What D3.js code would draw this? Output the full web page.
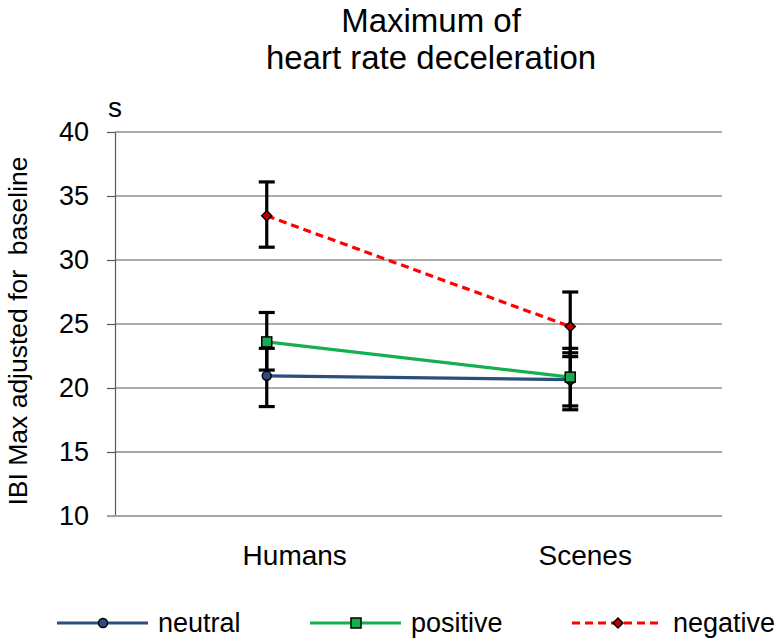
<!DOCTYPE html>
<html><head><meta charset="utf-8">
<script src="https://cdn.jsdelivr.net/npm/d3@7"></script>
<style>body{margin:0;background:#fff} text{font-family:"Liberation Sans",Arial,sans-serif;fill:#000}</style>
</head><body><svg id="c" width="781" height="642"></svg>
<script>
const categories = ["Humans", "Scenes"];
const seriesNames = ["neutral", "positive", "negative"];
const neutral = [20.95, 20.65];
const neutralLow = [18.55, 18.3];
const neutralHigh = [23.1, 22.75];
const positive = [23.6, 20.85];
const positiveLow = [21.4, 18.6];
const positiveHigh = [25.9, 23.1];
const negative = [33.45, 24.8];
const negativeLow = [31.0, 22.45];
const negativeHigh = [36.1, 27.5];
const yTicks = [10, 15, 20, 25, 30, 35, 40];
const titleLines = ["Maximum of", "heart rate deceleration"];
const yTitle = "IBI Max adjusted for  baseline";
const unitLabel = "s";

const series = [
  {name: seriesNames[0], v: neutral, lo: neutralLow, hi: neutralHigh, color: "#2B4E7D", dash: null, marker: "circle", mfill: "#2B4E7D"},
  {name: seriesNames[1], v: positive, lo: positiveLow, hi: positiveHigh, color: "#14B050", dash: null, marker: "square", mfill: "#14B050"},
  {name: seriesNames[2], v: negative, lo: negativeLow, hi: negativeHigh, color: "#FF0000", dash: "8,5", marker: "diamond", mfill: "#C00000"}
];

const svg = d3.select("#c");
const x = d3.scalePoint().domain(categories).range([115, 722]).padding(0.5);
const y = d3.scaleLinear().domain([10, 40]).range([516, 132]);

// gridlines
svg.append("g").selectAll("line").data(yTicks.filter(t => t > 10)).join("line")
  .attr("x1", 115).attr("x2", 722).attr("y1", d => y(d)).attr("y2", d => y(d))
  .attr("stroke", d => d === 15 ? "#a6a6a6" : "#595959").attr("stroke-width", d => d === 15 ? 2 : 1.2);

// y axis
const yAxis = d3.axisLeft(y).tickValues(yTicks).tickSize(8).tickPadding(18).tickSizeOuter(0);
const ga = svg.append("g").attr("transform", "translate(115,0)").call(yAxis);
ga.select(".domain").attr("stroke", "#595959").attr("stroke-width", 1.2);
ga.selectAll(".tick line").attr("stroke", "#595959").attr("stroke-width", 1.2);
ga.selectAll(".tick text").attr("font-size", 27).attr("font-family", "Liberation Sans, Arial, sans-serif").attr("fill", "#000");
// baseline
svg.append("line").attr("x1", 107).attr("x2", 722).attr("y1", y(10)).attr("y2", y(10))
  .attr("stroke", "#a6a6a6").attr("stroke-width", 2);

// category labels
const labelOffset = [28, 15];
svg.append("g").selectAll("text").data(categories).join("text")
  .attr("x", (d, i) => x(d) + labelOffset[i]).attr("y", 565)
  .attr("text-anchor", "middle").attr("font-size", 28).text(d => d);

// title
svg.append("g").selectAll("text").data(titleLines).join("text")
  .attr("x", 431).attr("y", (d, i) => 32 + i * 37)
  .attr("text-anchor", "middle").attr("font-size", 33).text(d => d);

// unit
svg.append("text").attr("x", 108).attr("y", 117).attr("font-size", 28).text(unitLabel);

// y title
svg.append("text").attr("transform", "translate(27,331) rotate(-90)")
  .attr("text-anchor", "middle").attr("font-size", 26.5).style("white-space", "pre").text(yTitle);

// lines
const line = d3.line().x((d, i) => x(categories[i])).y(d => y(d));
series.forEach(s => {
  svg.append("path").datum(s.v).attr("d", line).attr("fill", "none")
    .attr("stroke", s.color).attr("stroke-width", 3.2).attr("stroke-dasharray", s.dash);
});

// error bars
const eb = svg.append("g").attr("stroke", "#000").attr("stroke-width", 3.2);
series.forEach(s => {
  categories.forEach((c, i) => {
    eb.append("line").attr("x1", x(c)).attr("x2", x(c)).attr("y1", y(s.lo[i])).attr("y2", y(s.hi[i]));
    [s.lo[i], s.hi[i]].forEach(v => {
      eb.append("line").attr("x1", x(c) - 8).attr("x2", x(c) + 8).attr("y1", y(v)).attr("y2", y(v));
    });
  });
});

// markers
function drawMarker(g, type, cx, cy, fill, scale) {
  const k = scale || 1;
  if (type === "circle") {
    g.append("circle").attr("cx", cx).attr("cy", cy).attr("r", 4.5 * k).attr("fill", fill).attr("stroke", "#000").attr("stroke-width", 1.5);
  } else if (type === "square") {
    g.append("rect").attr("x", cx - 5 * k).attr("y", cy - 5 * k).attr("width", 10 * k).attr("height", 10 * k).attr("fill", fill).attr("stroke", "#000").attr("stroke-width", 1.5);
  } else {
    const r = 5 * k;
    g.append("path").attr("d", `M${cx},${cy - r}L${cx + r},${cy}L${cx},${cy + r}L${cx - r},${cy}Z`).attr("fill", fill).attr("stroke", "#000").attr("stroke-width", 1.5);
  }
}
const mg = svg.append("g");
series.forEach(s => {
  categories.forEach((c, i) => drawMarker(mg, s.marker, x(c), y(s.v[i]), s.mfill));
});

// legend
const legendX = [57, 310, 572];
const lg = svg.append("g");
series.forEach((s, i) => {
  const lx = legendX[i], ly = 623;
  lg.append("line").attr("x1", lx).attr("x2", lx + 91).attr("y1", ly).attr("y2", ly)
    .attr("stroke", s.color).attr("stroke-width", 3.2).attr("stroke-dasharray", s.dash);
  drawMarker(lg, s.marker, lx + 46, ly, s.mfill);
  lg.append("text").attr("x", lx + 101).attr("y", ly + 9).attr("font-size", 27).text(s.name);
});
</script></body></html>
